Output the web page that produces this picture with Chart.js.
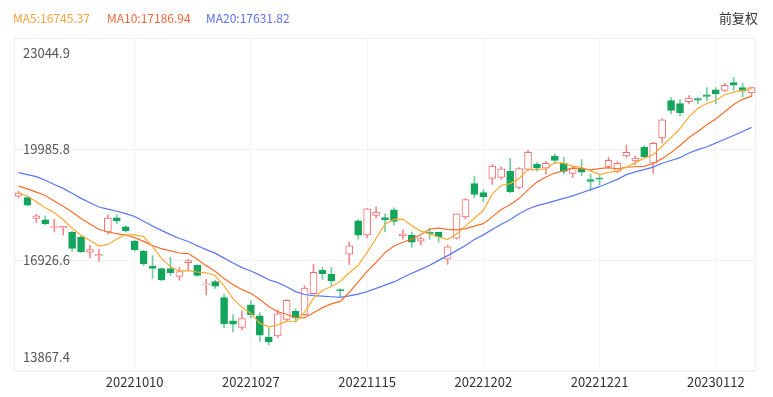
<!DOCTYPE html>
<html>
<head>
<meta charset="utf-8">
<script src="https://cdn.jsdelivr.net/npm/chart.js@4.4.1/dist/chart.umd.min.js"></script>
<style>
  html, body { margin: 0; padding: 0; background: #fff; }
  #caixa { position: relative; width: 773px; height: 397px; font-family: "Noto Sans CJK SC", "Noto Sans", sans-serif; }
  #caixa canvas { position: absolute; left: 0; top: 0; }
  .legenda { position: absolute; top: 9px; font-size: 12px; line-height: 18px; z-index: 2; white-space: nowrap; }
</style>
</head>
<body>
<div id="caixa">
  <canvas id="graficoK" width="773" height="397"></canvas>
  <span class="legenda" style="left:13px;color:#f5a33d">MA5:16745.37</span>
  <span class="legenda" style="left:107px;color:#f2673a">MA10:17186.94</span>
  <span class="legenda" style="left:206px;color:#5c6ff0">MA20:17631.82</span>
  <span class="legenda" style="left:719px;color:#333;font-size:13px">前复权</span>
</div>
<script>
const datas = ['20220920','20220921','20220922','20220923','20220926','20220927','20220928','20220929','20220930','20221003',
  '20221005','20221006','20221007','20221010','20221011','20221012','20221013','20221014','20221017','20221018',
  '20221019','20221020','20221021','20221024','20221025','20221026','20221027','20221028','20221031','20221101',
  '20221102','20221103','20221104','20221107','20221108','20221109','20221110','20221111','20221114','20221115',
  '20221116','20221117','20221118','20221121','20221122','20221123','20221124','20221125','20221128','20221129',
  '20221130','20221201','20221202','20221205','20221206','20221207','20221208','20221209','20221212','20221213',
  '20221214','20221215','20221216','20221219','20221220','20221221','20221222','20221223','20221228','20221229',
  '20221230','20230103','20230104','20230105','20230106','20230109','20230110','20230111','20230112','20230113',
  '20230116','20230117','20230118'];

const abertura = [18690,18650,18080,18040,17830,17820,17705,17566,17150,17050,
  17705,18095,17845,17455,17177,16760,16700,16700,16480,16860,
  16788,16250,16343,15898,15258,15080,15703,15397,14813,14841,
  15300,15520,15430,16009,16648,16540,16120,17093,18011,17621,
  18160,18100,18317,17600,17621,17455,17700,17700,16954,17538,
  18122,19040,18790,19179,19207,19374,18929,19430,19569,19460,
  19791,19597,19318,19450,19150,19190,19513,19374,19800,19660,
  20042,19600,20292,21320,21237,21293,21380,21480,21620,21600,
  21820,21680,21530];

const maxima = [18830,18680,18200,18150,18060,17870,17720,17600,17340,17230,
  18178,18178,17880,17480,17200,17058,16720,17010,16730,16950,
  16800,16400,16380,15990,15425,15536,15815,15481,15063,15560,
  15842,15592,16231,16815,16731,16731,16150,17427,18039,18350,
  18400,18206,18372,17761,17705,17566,17800,17705,17343,18206,
  18622,19235,18873,19569,19500,19736,19480,19950,19620,19650,
  19850,19760,19520,19700,19300,19280,19760,19640,20097,19800,
  20080,20180,20820,21404,21348,21460,21404,21682,21682,21794,
  21960,21794,21680];

const minima = [18640,18420,17960,17900,17710,17620,17180,17140,16990,16900,
  17650,17930,17700,17180,16780,16426,16360,16510,16370,16650,
  16480,15980,16150,15070,14952,15008,15342,14690,14597,14800,
  15250,15230,15410,15990,16398,16204,15925,16815,17510,17540,
  18095,17705,17900,17510,17288,17343,17500,17427,16815,17510,
  18067,18650,18540,19013,19150,18790,18900,19400,19380,19300,
  19600,19300,19200,19250,18850,19000,19450,19340,19760,19560,
  19750,19318,20150,20959,20903,21237,21237,21320,21237,21571,
  21600,21432,21432];

const fechamento = [18781,18445,18148,17933,17855,17860,17251,17166,17223,17080,
  18088,18012,17740,17217,16832,16701,16389,16588,16613,16915,
  16511,16280,16211,15181,15166,15318,15428,14863,14687,15455,
  15827,15339,16161,16596,16557,16359,16081,17326,17620,18343,
  18256,18046,17993,17656,17424,17524,17661,17574,17298,18205,
  18597,18736,18675,19518,19441,18815,19450,19901,19464,19596,
  19673,19369,19451,19353,19095,19160,19679,19593,19899,19741,
  19781,20145,20793,21052,20992,21388,21331,21436,21514,21739,
  21747,21578,21678];

const ma5 = [18777,18697,18540,18375,18232,18048,17809,17613,17471,17316,
  17362,17514,17629,17627,17578,17300,16976,16745,16625,16641,
  16603,16581,16506,16220,15870,15631,15461,15191,15092,15150,
  15252,15234,15494,15876,16096,16202,16351,16584,16789,17146,
  17525,17918,18052,18059,17875,17729,17652,17568,17496,17652,
  17867,18082,18302,18746,18993,19037,19180,19425,19414,19445,
  19617,19601,19511,19488,19388,19286,19348,19376,19485,19614,
  19739,19832,20072,20302,20553,20874,21111,21240,21332,21482,
  21553,21603,21651];

const ma10 = [18968,18892,18802,18710,18559,18413,18253,18077,17923,17774,
  17705,17662,17621,17549,17447,17331,17245,17187,17126,17110,
  16952,16779,16626,16422,16256,16117,16021,15849,15656,15510,
  15442,15348,15343,15484,15623,15727,15793,16039,16332,16621,
  16864,17135,17318,17424,17510,17627,17785,17810,17778,17764,
  17798,17867,17935,18121,18323,18452,18631,18864,19080,19219,
  19327,19390,19468,19451,19417,19451,19474,19443,19487,19501,
  19512,19590,19724,19894,20084,20306,20472,20656,20817,21017,
  21214,21357,21446];

const ma20 = [19339,19286,19230,19129,19013,18905,18770,18630,18512,18393,
  18336,18277,18212,18130,18003,17872,17749,17632,17524,17442,
  17328,17220,17123,16986,16851,16724,16633,16518,16391,16310,
  16197,16063,15984,15953,15939,15922,15907,15944,15994,16065,
  16153,16241,16330,16454,16567,16677,16789,16924,17055,17192,
  17331,17501,17626,17772,17917,18039,18208,18337,18429,18492,
  18562,18629,18701,18786,18870,18952,19053,19153,19284,19360,
  19420,19490,19596,19673,19750,19879,19973,20050,20152,20259,
  20363,20473,20585];

const rotulosX = ['20221010','20221027','20221115','20221202','20221221','20230112'];
const rotulosY = [13867.4, 16926.6, 19985.8, 23044.9];

const fonte = '"Noto Sans CJK SC", "Noto Sans", sans-serif';

// alta = vermelho vazado, baixa = verde cheio
const sobe = fechamento.map((c, i) => c >= abertura[i]);
const corCorpo = sobe.map(s => s ? '#ffffff' : '#13a55c');
const corBorda = sobe.map(s => s ? '#f36d6d' : '#13a55c');
const corPavio = sobe.map(s => s ? '#f58a8a' : '#74cda0');

const moldura = {
    id: 'moldura',
    beforeDatasetsDraw(chart) {
        const { ctx, chartArea, scales } = chart;
        ctx.save();
        ctx.strokeStyle = '#eeeeee';
        ctx.lineWidth = 1;
        ctx.strokeRect(chartArea.left + 0.5, chartArea.top + 0.5,
            chartArea.right - chartArea.left - 1, chartArea.bottom - chartArea.top - 1);

        ctx.font = '13px ' + fonte;
        ctx.fillStyle = '#555555';
        ctx.textBaseline = 'middle';
        ctx.textAlign = 'left';
        rotulosY.forEach(v => {
            let y = scales.y.getPixelForValue(v);
            y = Math.min(Math.max(y, chartArea.top + 15), chartArea.bottom - 14);
            ctx.fillText(v.toFixed(1), chartArea.left + 9, y);
        });
        ctx.restore();
    }
};

const graficoK = new Chart(document.getElementById('graficoK'), {
    type: 'bar',
    data: {
        labels: datas,
        datasets: [
            {
                type: 'line',
                label: 'MA5',
                data: ma5,
                borderColor: '#f9ac35',
                borderWidth: 1.2,
                pointRadius: 0,
                tension: 0,
                order: 1
            },
            {
                type: 'line',
                label: 'MA10',
                data: ma10,
                borderColor: '#f6702d',
                borderWidth: 1.2,
                pointRadius: 0,
                tension: 0,
                order: 1
            },
            {
                type: 'line',
                label: 'MA20',
                data: ma20,
                borderColor: '#5a78f2',
                borderWidth: 1.2,
                pointRadius: 0,
                tension: 0,
                order: 1
            },
            {
                label: 'corpo',
                data: abertura.map((a, i) => [a, fechamento[i]]),
                backgroundColor: corCorpo,
                borderColor: corBorda,
                borderWidth: 1,
                borderSkipped: false,
                barThickness: 7,
                grouped: false,
                order: 2
            },
            {
                label: 'pavio',
                data: minima.map((l, i) => [l, maxima[i]]),
                backgroundColor: corPavio,
                borderWidth: 0,
                barThickness: 1,
                grouped: false,
                order: 3
            }
        ]
    },
    options: {
        responsive: false,
        animation: false,
        layout: { padding: { left: 14, right: 17, top: 38, bottom: 4 } },
        plugins: {
            legend: { display: false },
            tooltip: { enabled: false }
        },
        scales: {
            x: {
                offset: true,
                border: { display: false },
                grid: {
                    offset: false,
                    drawTicks: false,
                    color: ctx => rotulosX.includes(datas[ctx.index]) ? '#f3f3f3' : 'rgba(0,0,0,0)'
                },
                ticks: {
                    autoSkip: false,
                    maxRotation: 0,
                    padding: 3,
                    color: '#333333',
                    font: { size: 13, family: fonte },
                    callback: function (valor) {
                        const rotulo = this.getLabelForValue(valor);
                        return rotulosX.includes(rotulo) ? rotulo : '';
                    }
                }
            },
            y: {
                min: 13867.4,
                max: 23044.9,
                border: { display: false },
                afterBuildTicks: eixo => { eixo.ticks = rotulosY.map(v => ({ value: v })); },
                grid: { color: '#f3f3f3', drawTicks: false },
                ticks: { display: false }
            }
        }
    },
    plugins: [moldura]
});
</script>
</body>
</html>
